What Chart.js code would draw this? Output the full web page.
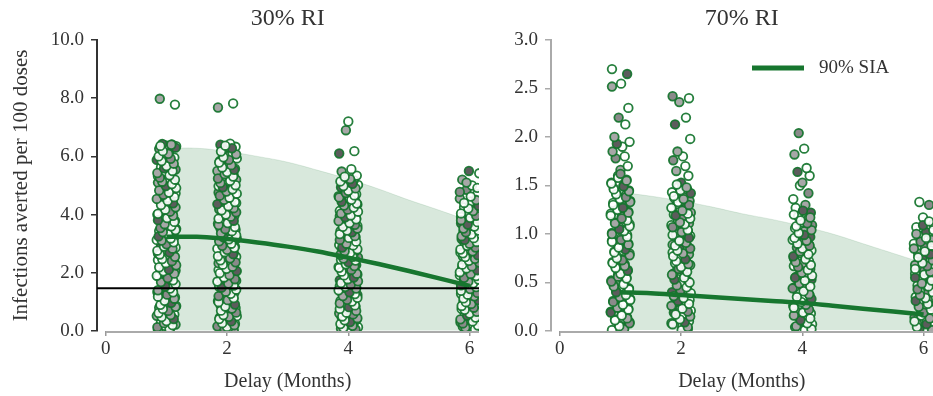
<!DOCTYPE html>
<html>
<head>
<meta charset="utf-8">
<script src="https://cdn.jsdelivr.net/npm/chart.js@4.4.1/dist/chart.umd.min.js"></script>
<style>
  body { margin: 0; background: #fff; }
  .panel { position: absolute; top: 0; height: 396px; overflow: hidden; }
  #left { left: 0; width: 479px; }
  #right { left: 479px; width: 454px; }
</style>
</head>
<body>
<div class="panel" id="left"><canvas id="ri30" width="520" height="396"></canvas></div>
<div class="panel" id="right"><canvas id="ri70" width="500" height="396"></canvas></div>
<script>
// delays (months) where the simulations were run
const delays = [1, 2, 4, 6];
const xTicks = [0, 2, 4, 6];

// 30% RI - infections averted per 100 doses, one list per delay
const ri30Delay1 = [0.04,0.09,0.17,0.22,0.31,0.38,0.44,0.52,0.57,0.66,0.71,0.8,0.86,0.93,1.01,1.07,1.16,1.22,1.3,1.34,1.43,1.49,1.58,1.64,1.71,1.77,1.88,1.93,2.01,2.08,2.14,2.23,2.29,2.37,2.44,2.5,2.61,2.66,2.73,2.79,2.87,2.95,3.02,3.09,3.13,3.22,3.3,3.36,3.44,3.51,3.58,3.63,3.72,3.79,3.84,3.93,4.0,4.07,4.15,4.21,4.3,4.36,4.43,4.52,4.58,4.64,4.73,4.8,4.88,4.94,5.02,5.1,5.17,5.23,5.32,5.4,5.47,5.55,5.63,5.71,5.79,5.88,5.96,6.05,6.14,6.26,6.35,6.38,6.41,6.43,7.78,7.98,
  0.07,0.13,0.2,0.27,0.34,0.41,0.48,0.55,0.62,0.69,0.76,0.83,0.9,0.97,1.04,1.11,1.18,1.25,1.33,1.4,1.46,1.53,1.61,1.68,1.74,1.82,1.9,1.97,2.05,2.11,2.19,2.26,2.33,2.4,2.47,2.55,2.63,2.7,2.76,2.83,2.9,2.98,3.05,3.11,3.18,3.25,3.33,3.4,3.47,3.54,3.6,3.67,3.75,3.81,3.88,3.96,4.03,4.1,4.17,4.25,4.33,4.39,4.47,4.54,4.6,4.68,4.76,4.83,4.91,4.98,5.05,5.13,5.2,5.27,5.35,5.43,5.5,5.59,5.67,5.75,5.84,5.92,6.0,6.09,6.18,6.3,6.36,6.4];
const ri30Delay2 = [0.03,0.11,0.16,0.25,0.29,0.36,0.47,0.51,0.6,0.68,0.74,0.79,0.89,0.95,1.03,1.1,1.14,1.25,1.31,1.38,1.45,1.52,1.6,1.67,1.73,1.81,1.86,1.97,2.03,2.1,2.18,2.24,2.33,2.4,2.47,2.55,2.59,2.68,2.76,2.83,2.9,2.97,3.05,3.11,3.18,3.27,3.32,3.4,3.48,3.53,3.6,3.69,3.75,3.82,3.9,3.96,4.04,4.11,4.18,4.26,4.32,4.4,4.47,4.55,4.61,4.69,4.76,4.83,4.9,4.98,5.05,5.13,5.2,5.28,5.35,5.43,5.5,5.58,5.66,5.75,5.84,5.93,6.02,6.12,6.24,6.33,6.4,6.44,7.68,7.82,
  0.06,0.14,0.2,0.27,0.33,0.41,0.49,0.55,0.63,0.7,0.77,0.84,0.91,0.99,1.06,1.13,1.2,1.28,1.35,1.42,1.49,1.56,1.63,1.7,1.78,1.84,1.92,1.99,2.06,2.14,2.21,2.28,2.36,2.43,2.5,2.57,2.64,2.71,2.79,2.86,2.93,3.0,3.08,3.15,3.22,3.29,3.36,3.43,3.5,3.57,3.64,3.71,3.79,3.86,3.93,4.0,4.08,4.15,4.22,4.29,4.36,4.43,4.51,4.58,4.65,4.72,4.79,4.87,4.94,5.01,5.09,5.16,5.24,5.31,5.39,5.46,5.54,5.62,5.7,5.79,5.88,5.97,6.07,6.17,6.28,6.37];
const ri30Delay4 = [0.02,0.09,0.13,0.22,0.27,0.35,0.4,0.47,0.52,0.61,0.65,0.73,0.79,0.84,0.92,0.98,1.03,1.11,1.17,1.24,1.29,1.37,1.42,1.5,1.55,1.63,1.68,1.75,1.8,1.88,1.94,2.01,2.06,2.14,2.2,2.27,2.31,2.4,2.45,2.53,2.58,2.66,2.7,2.79,2.84,2.91,2.96,3.04,3.1,3.17,3.22,3.3,3.35,3.43,3.48,3.56,3.61,3.69,3.74,3.82,3.87,3.95,4.01,4.08,4.13,4.21,4.27,4.35,4.4,4.48,4.55,4.63,4.7,4.79,4.86,4.94,5.02,5.1,5.18,5.26,5.34,5.48,5.56,6.1,6.18,6.9,7.2,
  0.05,0.11,0.18,0.24,0.31,0.37,0.44,0.5,0.57,0.63,0.69,0.76,0.82,0.88,0.95,1.01,1.07,1.14,1.2,1.27,1.33,1.4,1.46,1.52,1.59,1.65,1.71,1.78,1.84,1.91,1.97,2.04,2.1,2.17,2.23,2.29,2.36,2.42,2.49,2.55,2.62,2.68,2.74,2.81,2.87,2.94,3.0,3.07,3.13,3.2,3.26,3.33,3.39,3.45,3.52,3.58,3.65,3.71,3.78,3.84,3.91,3.97,4.04,4.1,4.17,4.24,4.31,4.38,4.44,4.51,4.59,4.66,4.74,4.82,4.9,4.98,5.06,5.14,5.22,5.3];
const ri30Delay6 = [0.03,0.1,0.15,0.24,0.3,0.37,0.42,0.5,0.56,0.63,0.7,0.76,0.83,0.88,0.96,1.02,1.09,1.15,1.21,1.28,1.35,1.41,1.47,1.54,1.6,1.67,1.73,1.8,1.86,1.92,1.99,2.05,2.12,2.18,2.25,2.31,2.38,2.44,2.51,2.57,2.63,2.7,2.77,2.83,2.9,2.96,3.03,3.09,3.16,3.22,3.29,3.35,3.42,3.48,3.55,3.62,3.7,3.77,3.85,3.92,4.0,4.08,4.17,4.25,4.35,4.45,4.55,4.7,4.85,5.0,5.2,5.42,5.5,
  0.06,0.12,0.19,0.26,0.33,0.4,0.46,0.53,0.6,0.66,0.73,0.8,0.86,0.93,0.99,1.06,1.12,1.19,1.25,1.31,1.38,1.44,1.51,1.57,1.64,1.7,1.77,1.83,1.89,1.96,2.02,2.09,2.15,2.22,2.28,2.35,2.41,2.48,2.54,2.6,2.67,2.74,2.8,2.87,2.93,3.0,3.06,3.13,3.19,3.26,3.32,3.39,3.45,3.52,3.59,3.66,3.74,3.81,3.89,3.96,4.04,4.12,4.21,4.3,4.4,4.5,4.62,4.78,4.92,5.1];

// 70% RI
const ri70Delay1 = [0.01,0.04,0.06,0.09,0.12,0.14,0.17,0.2,0.23,0.25,0.28,0.31,0.33,0.36,0.39,0.41,0.44,0.47,0.5,0.52,0.55,0.58,0.6,0.63,0.66,0.69,0.71,0.74,0.77,0.8,0.82,0.85,0.88,0.9,0.93,0.96,0.99,1.01,1.04,1.07,1.1,1.12,1.15,1.18,1.21,1.23,1.26,1.29,1.32,1.34,1.37,1.4,1.42,1.45,1.47,1.5,1.53,1.56,1.6,1.66,1.7,1.78,1.8,1.85,1.9,1.93,1.95,2.0,2.13,2.2,2.3,2.52,2.55,2.65,2.7,
  0.02,0.05,0.08,0.11,0.13,0.16,0.19,0.22,0.24,0.27,0.3,0.32,0.35,0.37,0.4,0.43,0.46,0.48,0.51,0.54,0.56,0.59,0.62,0.65,0.67,0.7,0.73,0.75,0.78,0.81,0.84,0.86,0.89,0.92,0.94,0.97,1.0,1.03,1.05,1.08,1.11,1.14,1.16,1.19,1.22,1.25,1.27,1.3,1.33,1.36,1.38,1.41,1.44,1.46,1.49,1.52,1.55,1.58,1.62];
const ri70Delay2 = [0.02,0.05,0.08,0.1,0.13,0.16,0.19,0.21,0.24,0.27,0.3,0.32,0.35,0.38,0.4,0.43,0.46,0.49,0.51,0.54,0.57,0.59,0.62,0.65,0.68,0.7,0.73,0.76,0.79,0.81,0.84,0.87,0.89,0.92,0.95,0.98,1.0,1.03,1.06,1.09,1.11,1.14,1.17,1.2,1.22,1.25,1.28,1.31,1.34,1.37,1.4,1.43,1.46,1.49,1.53,1.6,1.65,1.7,1.76,1.8,1.85,1.98,2.13,2.2,2.36,2.4,2.42,
  0.01,0.04,0.07,0.09,0.12,0.15,0.17,0.2,0.23,0.26,0.28,0.31,0.34,0.36,0.39,0.42,0.45,0.47,0.5,0.53,0.55,0.58,0.61,0.64,0.66,0.69,0.72,0.74,0.77,0.8,0.83,0.85,0.88,0.91,0.93,0.96,0.99,1.02,1.04,1.07,1.1,1.12,1.16,1.19,1.21,1.24,1.27,1.3,1.33,1.36,1.39,1.42,1.45,1.48,1.51];
const ri70Delay4 = [0.01,0.04,0.07,0.1,0.12,0.15,0.18,0.21,0.23,0.26,0.29,0.31,0.34,0.37,0.4,0.42,0.45,0.48,0.5,0.53,0.56,0.59,0.61,0.64,0.67,0.7,0.72,0.75,0.78,0.8,0.83,0.86,0.89,0.91,0.94,0.97,1.0,1.03,1.06,1.09,1.12,1.15,1.18,1.22,1.27,1.3,1.36,1.42,1.5,1.53,1.6,1.64,1.68,1.82,1.88,2.04,
  0.02,0.05,0.08,0.11,0.13,0.16,0.19,0.22,0.24,0.27,0.3,0.33,0.35,0.38,0.41,0.44,0.46,0.49,0.52,0.55,0.57,0.6,0.63,0.66,0.68,0.71,0.74,0.77,0.79,0.82,0.85,0.88,0.9,0.93,0.96,0.99,1.01,1.04,1.08,1.11,1.14,1.17,1.2,1.24];
const ri70Delay6 = [0.02,0.05,0.08,0.11,0.14,0.17,0.2,0.23,0.26,0.29,0.32,0.35,0.38,0.41,0.44,0.47,0.5,0.53,0.56,0.59,0.62,0.65,0.68,0.71,0.74,0.77,0.8,0.83,0.86,0.9,0.94,0.98,1.02,1.07,1.1,1.17,1.3,1.33,
  0.01,0.04,0.07,0.1,0.13,0.16,0.19,0.22,0.25,0.28,0.31,0.34,0.37,0.4,0.43,0.46,0.49,0.52,0.55,0.58,0.61,0.64,0.67,0.7,0.73,0.76,0.79,0.82,0.85,0.88,0.92,0.96,1.0,1.04,1.09,1.13];

// 90% SIA fitted curve and its interval
const curveDelays = [1, 1.5, 2, 2.5, 3, 3.5, 4, 4.5, 5, 5.5, 6];
const ri30Median = [3.24, 3.24, 3.16, 3.04, 2.9, 2.73, 2.52, 2.3, 2.06, 1.81, 1.55];
const ri30Upper  = [6.28, 6.28, 6.17, 6.0, 5.8, 5.52, 5.22, 4.88, 4.5, 4.15, 3.78];
const ri30Lower  = [0.02, 0.02, 0.02, 0.02, 0.02, 0.02, 0.02, 0.02, 0.02, 0.02, 0.02];
const ri70Median = [0.40, 0.39, 0.37, 0.35, 0.33, 0.31, 0.29, 0.26, 0.23, 0.20, 0.17];
const ri70Upper  = [1.43, 1.39, 1.34, 1.28, 1.21, 1.15, 1.08, 1.0, 0.9, 0.8, 0.70];
const ri70Lower  = [0.01, 0.01, 0.01, 0.01, 0.01, 0.01, 0.01, 0.01, 0.01, 0.01, 0.01];
const ri30Threshold = 1.47;

// strip plot look: horizontal jitter and fill shades
const jitter = [-0.14,0.06,-0.02,0.15,-0.09,0.11,0.02,-0.16,0.13,-0.05,0.04,-0.12,0.16,-0.01,0.09,-0.07,0.14,-0.11,0.05,-0.15,0.1,-0.04,0.0,0.12,-0.08,0.07,-0.13,0.03,-0.06,0.15,-0.1,0.08,-0.03,0.13,-0.14,0.01,0.11];
const fills = ['rgba(255,255,255,0.9)','#a7a7a7','rgba(255,255,255,0.9)','#5c5c5c','rgba(255,255,255,0.9)','#a7a7a7','rgba(255,255,255,0.9)','#8a8a8a'];
const green = '#17762f';
const serif = '"Liberation Serif", "DejaVu Serif", serif';

function strip(columns) {
  const pts = [], colors = [];
  columns.forEach((vals, c) => {
    vals.forEach((v, i) => {
      pts.push({ x: delays[c] + jitter[(i + c * 5) % jitter.length], y: v });
      colors.push(fills[(i * 3 + c) % fills.length]);
    });
  });
  return { pts, colors };
}

const pairs = (ys) => curveDelays.map((d, i) => ({ x: d, y: ys[i] }));

const panelText = {
  id: 'panelText',
  beforeDatasetsDraw(chart) {
    const { ctx, chartArea, scales: { x } } = chart;
    ctx.save();
    ctx.strokeStyle = '#aaa';
    ctx.lineWidth = 2;
    ctx.beginPath();
    ctx.moveTo(x.getPixelForValue(0), chartArea.bottom + 1);
    ctx.lineTo(chartArea.right, chartArea.bottom + 1);
    ctx.stroke();
    ctx.restore();
  },
  afterDraw(chart, args, opts) {
    const { ctx, scales: { x } } = chart;
    const cx = x.getPixelForValue(3);
    ctx.save();
    ctx.fillStyle = '#333';
    ctx.textAlign = 'center';
    ctx.textBaseline = 'middle';
    ctx.font = '24px ' + serif;
    ctx.fillText(opts.title, cx, 19);
    ctx.font = '20px ' + serif;
    ctx.fillText('Delay (Months)', cx, 382);
    if (opts.legend) {
      const [lx, ly] = opts.legend;
      ctx.strokeStyle = green;
      ctx.lineWidth = 5;
      ctx.beginPath();
      ctx.moveTo(lx, ly);
      ctx.lineTo(lx + 52, ly);
      ctx.stroke();
      ctx.textAlign = 'left';
      ctx.font = '19px ' + serif;
      ctx.fillText('90% SIA', lx + 67, ly);
    }
    ctx.restore();
  }
};

function makePanel(id, cfg) {
  const s = strip(cfg.columns);
  const datasets = [
    { type: 'line', data: pairs(cfg.lower), borderWidth: 0, pointRadius: 0, fill: false, order: 3 },
    { type: 'line', data: pairs(cfg.upper), borderWidth: 1, borderColor: 'rgba(23,118,47,0.12)',
      backgroundColor: 'rgba(23,118,47,0.17)', pointRadius: 0, fill: '-1', tension: 0.4, order: 3 },
    { type: 'scatter', data: s.pts, pointRadius: 4.3, pointBorderWidth: 1.8,
      pointBorderColor: 'rgba(20,116,44,0.92)', pointBackgroundColor: s.colors, order: 2 },
    { type: 'line', data: pairs(cfg.median), borderColor: green, borderWidth: 4.5,
      pointRadius: 0, fill: false, cubicInterpolationMode: 'monotone', order: 1 }
  ];
  if (cfg.threshold !== undefined) {
    datasets.push({ type: 'line', data: [{ x: -0.2, y: cfg.threshold }, { x: 7, y: cfg.threshold }],
      borderColor: '#000', borderWidth: 2, pointRadius: 0, fill: false, order: 0 });
  }
  new Chart(document.getElementById(id), {
    type: 'scatter',
    data: { datasets },
    plugins: [panelText],
    options: {
      responsive: false,
      animation: false,
      layout: { padding: { top: 40, left: 0, right: 0, bottom: 0 } },
      plugins: {
        legend: { display: false },
        tooltip: { enabled: false },
        panelText: { title: cfg.title, legend: cfg.legend }
      },
      scales: {
        x: {
          type: 'linear', min: -0.146, max: cfg.xMax,
          afterBuildTicks: (sc) => { sc.ticks = xTicks.map(v => ({ value: v })); },
          afterFit: (sc) => { sc.height = 65; },
          ticks: { color: '#333', font: { family: serif, size: 19 }, padding: 2 },
          grid: { drawOnChartArea: false, tickLength: 5, color: '#999', lineWidth: 1.5 },
          border: { display: false }
        },
        y: {
          min: 0, max: cfg.yMax,
          afterBuildTicks: (sc) => { sc.ticks = cfg.yTicks.map(v => ({ value: v })); },
          afterFit: (sc) => { sc.width = cfg.yWidth; },
          ticks: { color: '#333', font: { family: serif, size: 19 }, padding: 7,
            callback: (v) => Number(v).toFixed(1) },
          grid: { drawOnChartArea: false, tickLength: 6, color: cfg.axisColor, lineWidth: 1.5 },
          border: { color: cfg.axisColor, width: 2 },
          title: { display: !!cfg.yTitle, text: cfg.yTitle || '', color: '#333',
            font: { family: serif, size: 21 }, padding: { top: 9, bottom: 0 } }
        }
      }
    }
  });
}

makePanel('ri30', {
  title: '30% RI',
  columns: [ri30Delay1, ri30Delay2, ri30Delay4, ri30Delay6],
  median: ri30Median, upper: ri30Upper, lower: ri30Lower,
  threshold: ri30Threshold,
  yMax: 10, yTicks: [0, 2, 4, 6, 8, 10], yWidth: 97, xMax: 6.732,
  axisColor: '#333', yTitle: 'Infections averted per 100 doses'
});

makePanel('ri70', {
  title: '70% RI',
  columns: [ri70Delay1, ri70Delay2, ri70Delay4, ri70Delay6],
  median: ri70Median, upper: ri70Upper, lower: ri70Lower,
  yMax: 3, yTicks: [0, 0.5, 1, 1.5, 2, 2.5, 3], yWidth: 72, xMax: 6.813,
  axisColor: '#aaa', legend: [273, 68]
});
</script>
</body>
</html>
